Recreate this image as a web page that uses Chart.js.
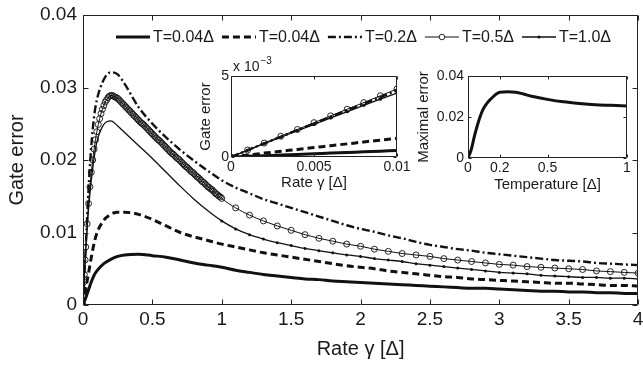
<!DOCTYPE html>
<html>
<head>
<meta charset="utf-8">
<script src="https://cdn.jsdelivr.net/npm/chart.js@4.4.1/dist/chart.umd.min.js"></script>
<style>
  html, body { margin: 0; padding: 0; background: #fff; }
  #wrap { position: relative; width: 643px; height: 365px; overflow: hidden; }
  #wrap canvas { position: absolute; }
</style>
</head>
<body>
<div id="wrap">
  <canvas id="mainChart" width="643" height="365" style="left:0;top:0"></canvas>
  <canvas id="insetRate" width="235" height="140" style="left:180px;top:55px"></canvas>
  <canvas id="insetTemp" width="225" height="140" style="left:415px;top:55px"></canvas>
</div>
<script>
// ---- data ----
const seriesLabels = ['T=0.04Δ', 'T=0.04Δ', 'T=0.2Δ', 'T=0.5Δ', 'T=1.0Δ'];

// fine grid, used by the circle series (T=0.5)
const rateFine = [0, 0.0025, 0.005, 0.0075, 0.01, 0.015, 0.02, 0.03, 0.04, 0.05, 0.06, 0.07, 0.08, 0.09,
  0.10, 0.11, 0.12, 0.13, 0.14, 0.15, 0.16, 0.17, 0.18, 0.19,
  0.20, 0.21, 0.22, 0.23, 0.24, 0.25, 0.26, 0.27, 0.28, 0.29,
  0.30, 0.31, 0.32, 0.33, 0.34, 0.35, 0.36, 0.37, 0.38, 0.39,
  0.40, 0.41, 0.42, 0.43, 0.44, 0.45, 0.46, 0.47, 0.48, 0.49,
  0.50, 0.51, 0.52, 0.53, 0.54, 0.55, 0.56, 0.57, 0.58, 0.59,
  0.60, 0.61, 0.62, 0.63, 0.64, 0.65, 0.66, 0.67, 0.68, 0.69,
  0.70, 0.71, 0.72, 0.73, 0.74, 0.75, 0.76, 0.77, 0.78, 0.79,
  0.80, 0.81, 0.82, 0.83, 0.84, 0.85, 0.86, 0.87, 0.88, 0.89,
  0.90, 0.91, 0.92, 0.93, 0.94, 0.95, 0.96, 0.97, 0.98, 0.99, 1.0,
  1.1, 1.2, 1.3, 1.4, 1.5, 1.6, 1.7, 1.8, 1.9, 2.0, 2.1, 2.2, 2.3, 2.4, 2.5, 2.6, 2.7, 2.8, 2.9, 3.0,
  3.1, 3.2, 3.3, 3.4, 3.5, 3.6, 3.7, 3.8, 3.9, 4.0];
const errT05 = [0, 0.00105, 0.0021, 0.0032, 0.0042, 0.0062, 0.0080, 0.0112, 0.0140, 0.0163, 0.0183, 0.0200, 0.0215, 0.0228,
  0.0239, 0.0249, 0.0257, 0.0264, 0.0270, 0.0275, 0.0280, 0.0283, 0.0286, 0.0288,
  0.0289, 0.0289, 0.0288, 0.0287, 0.0286, 0.0285, 0.0283, 0.0281, 0.0279, 0.0277,
  0.0275, 0.0273, 0.0271, 0.0269, 0.0267, 0.0265, 0.0263, 0.0261, 0.0259, 0.0257,
  0.0255, 0.0253, 0.0251, 0.0250, 0.0248, 0.0246, 0.0244, 0.0242, 0.0240, 0.0238,
  0.0236, 0.0234, 0.0232, 0.0230, 0.0228, 0.0227, 0.0225, 0.0223, 0.0221, 0.0219,
  0.0217, 0.0215, 0.0213, 0.0211, 0.0209, 0.0208, 0.0206, 0.0204, 0.0202, 0.0201,
  0.0199, 0.0197, 0.0195, 0.0193, 0.0191, 0.0190, 0.0188, 0.0186, 0.0184, 0.0183,
  0.0181, 0.0179, 0.0177, 0.0176, 0.0174, 0.0172, 0.0170, 0.0169, 0.0167, 0.0165,
  0.0163, 0.0162, 0.0160, 0.0159, 0.0157, 0.0155, 0.0153, 0.0152, 0.0150, 0.0149, 0.0147,
  0.0134, 0.0124, 0.0116, 0.0109, 0.0103, 0.0097, 0.0092, 0.0088, 0.0084, 0.0081, 0.0077, 0.0074, 0.0071, 0.0069, 0.0067,
  0.0064, 0.0062, 0.0060, 0.0058, 0.0056, 0.0055, 0.0053, 0.0052, 0.0051, 0.0050, 0.0049, 0.0047, 0.0046, 0.0045, 0.0044];

// coarse grid, used by the other four series
const rateCoarse = [0, 0.01, 0.02, 0.04, 0.06, 0.08, 0.1, 0.15, 0.2, 0.25, 0.3, 0.4, 0.5, 0.6, 0.7, 0.8, 0.9, 1.0,
  1.1, 1.2, 1.3, 1.4, 1.5, 1.6, 1.7, 1.8, 1.9, 2.0, 2.1, 2.2, 2.3, 2.4, 2.5, 2.6, 2.7, 2.8, 2.9, 3.0,
  3.1, 3.2, 3.3, 3.4, 3.5, 3.6, 3.7, 3.8, 3.9, 4.0];
const errT004 = [0, 0.0005, 0.0010, 0.0021, 0.0032, 0.0041, 0.0047, 0.0057, 0.0063, 0.0067, 0.0069, 0.0070, 0.0068, 0.0066, 0.0062, 0.0058, 0.0055, 0.0052,
  0.0048, 0.0045, 0.0042, 0.0040, 0.0038, 0.0036, 0.0035, 0.0033, 0.0032, 0.0031,
  0.0030, 0.0029, 0.0028, 0.0027, 0.0026, 0.0025, 0.0024, 0.0023, 0.0023, 0.0022,
  0.0021, 0.0020, 0.0019, 0.0019, 0.0018, 0.0018, 0.0017, 0.0017, 0.0016, 0.0016];
const errT004b = [0, 0.0012, 0.0023, 0.0044, 0.0066, 0.0085, 0.0099, 0.0117, 0.0125, 0.0128, 0.0128, 0.0125, 0.0118, 0.0109, 0.0100, 0.0094, 0.0089, 0.0084,
  0.0080, 0.0076, 0.0072, 0.0069, 0.0066, 0.0063, 0.0060, 0.0057, 0.0054, 0.0052,
  0.0050, 0.0047, 0.0045, 0.0043, 0.0041, 0.0039, 0.0038, 0.0036, 0.0035, 0.0034,
  0.0033, 0.0032, 0.0031, 0.0030, 0.0030, 0.0029, 0.0028, 0.0027, 0.0027, 0.0026];
const errT02 = [0, 0.0041, 0.0080, 0.0160, 0.0220, 0.0260, 0.0283, 0.0311, 0.0321, 0.0318, 0.0305, 0.0273, 0.0250, 0.0231, 0.0214, 0.0199, 0.0185, 0.0172,
  0.0162, 0.0154, 0.0146, 0.0140, 0.0134, 0.0128, 0.0122, 0.0116, 0.0110, 0.0105,
  0.0101, 0.0096, 0.0092, 0.0087, 0.0083, 0.0080, 0.0077, 0.0075, 0.0072, 0.0070,
  0.0068, 0.0066, 0.0064, 0.0062, 0.0061, 0.0060, 0.0058, 0.0057, 0.0056, 0.0055];
const errT10 = [0, 0.0040, 0.0077, 0.0132, 0.0172, 0.0203, 0.0225, 0.0249, 0.0254, 0.0247, 0.0238, 0.0220, 0.0202, 0.0183, 0.0164, 0.0146, 0.0130, 0.0116,
  0.0105, 0.0097, 0.0091, 0.0086, 0.0082, 0.0078, 0.0075, 0.0072, 0.0069, 0.0067,
  0.0064, 0.0062, 0.0060, 0.0057, 0.0055, 0.0053, 0.0051, 0.0049, 0.0047, 0.0045,
  0.0044, 0.0043, 0.0041, 0.0040, 0.0039, 0.0038, 0.0038, 0.0037, 0.0037, 0.0036];

// left inset: small rates
const rateSmall = [0, 0.001, 0.002, 0.003, 0.004, 0.005, 0.006, 0.007, 0.008, 0.009, 0.01];
const smallT004 = [0, 0.00004, 0.00008, 0.00012, 0.00016, 0.0002, 0.00024, 0.00028, 0.00032, 0.00036, 0.0004];
const smallT004b = [0, 0.00012, 0.00024, 0.00035, 0.00047, 0.00058, 0.0007, 0.00081, 0.00093, 0.00104, 0.00115];
const smallT02 = [0, 0.00042, 0.00084, 0.00125, 0.00166, 0.00207, 0.00248, 0.00289, 0.00329, 0.00369, 0.0041];
const smallT05 = [0, 0.00043, 0.00086, 0.00128, 0.0017, 0.00212, 0.00254, 0.00295, 0.00336, 0.00378, 0.0042];
const smallT10 = [0, 0.00041, 0.00082, 0.00122, 0.00162, 0.00202, 0.00241, 0.0028, 0.00319, 0.00357, 0.00395];

// right inset: maximal error vs temperature
const temperature = [0, 0.02, 0.04, 0.06, 0.08, 0.1, 0.12, 0.14, 0.16, 0.18, 0.2, 0.25, 0.3, 0.35, 0.4, 0.5, 0.6, 0.7, 0.8, 0.9, 1.0];
const maxError = [0, 0.0040, 0.0105, 0.0162, 0.0210, 0.0245, 0.0268, 0.0285, 0.0300, 0.0313, 0.0321, 0.0323, 0.0321, 0.0312, 0.0301, 0.0286, 0.0274, 0.0266, 0.0260, 0.0257, 0.0254];
const tempTicks = [0, 0.2, 0.5, 1];

// ---- helpers ----
const FONT = '"Liberation Sans", Arial, Helvetica, sans-serif';
Chart.defaults.font.family = FONT;
Chart.defaults.color = '#1a1a1a';
const INK = '#111';

function pts(xs, ys) {
  return xs.map((x, i) => ({ x: x, y: ys[i] }));
}

// plain number labels like MATLAB: 0, 0.5, 1, 0.005, 0.01
const plainTick = v => String(parseFloat(Number(v).toFixed(6)));

// MATLAB-like box with inward ticks on all four sides
const boxPlugin = {
  id: 'box',
  afterDatasetsDraw(chart, args, opts) {
    const { ctx, chartArea: a, scales } = chart;
    const len = opts.len || 5;
    const L = Math.round(a.left) + 0.5, R = Math.round(a.right) - 0.5;
    const T = Math.round(a.top) + 0.5, B = Math.round(a.bottom) - 0.5;
    ctx.save();
    ctx.strokeStyle = '#222';
    ctx.lineWidth = 1;
    ctx.setLineDash([]);
    ctx.beginPath();
    ctx.rect(L, T, R - L, B - T);
    scales.x.ticks.forEach(t => {
      const px = Math.round(scales.x.getPixelForValue(t.value)) + 0.5;
      ctx.moveTo(px, B); ctx.lineTo(px, B - len);
      ctx.moveTo(px, T); ctx.lineTo(px, T + len);
    });
    scales.y.ticks.forEach(t => {
      const py = Math.round(scales.y.getPixelForValue(t.value)) + 0.5;
      ctx.moveTo(L, py); ctx.lineTo(L + len, py);
      ctx.moveTo(R, py); ctx.lineTo(R - len, py);
    });
    ctx.stroke();
    ctx.restore();
  }
};

// legend in one row inside the main plot, line sample + marker + text
const rowLegend = {
  id: 'rowLegend',
  afterDraw(chart, args, opts) {
    if (!opts.show) return;
    const ctx = chart.ctx;
    let x = opts.x;
    const y = opts.y;
    ctx.save();
    ctx.font = opts.font;
    ctx.textBaseline = 'middle';
    chart.data.datasets.forEach(ds => {
      const len = opts.sample;
      ctx.strokeStyle = ds.borderColor;
      ctx.lineWidth = ds.borderWidth;
      ctx.setLineDash(ds.borderDash || []);
      ctx.beginPath();
      ctx.moveTo(x, y);
      ctx.lineTo(x + len, y);
      ctx.stroke();
      ctx.setLineDash([]);
      if (ds.marker === 'circle') {
        ctx.lineWidth = 0.9;
        ctx.beginPath();
        ctx.arc(x + len / 2, y, 2.8, 0, Math.PI * 2);
        ctx.fillStyle = '#fff';
        ctx.fill();
        ctx.stroke();
      } else if (ds.marker === 'dot') {
        ctx.beginPath();
        ctx.arc(x + len / 2, y, 1.5, 0, Math.PI * 2);
        ctx.fillStyle = INK;
        ctx.fill();
      }
      ctx.fillStyle = '#1a1a1a';
      ctx.fillText(ds.label, x + len + 3, y + 1);
      x += len + 3 + ctx.measureText(ds.label).width + opts.gap;
    });
    ctx.restore();
  }
};

function seriesSet(xsMain, xsFine, sets, dotRule) {
  // sets: [thick, dashed, dashdot, circles, dots]
  return [
    { label: seriesLabels[0], data: pts(xsMain, sets[0]), borderColor: INK, borderWidth: 3,
      pointRadius: 0, cubicInterpolationMode: 'monotone' },
    { label: seriesLabels[1], data: pts(xsMain, sets[1]), borderColor: INK, borderWidth: 3, borderDash: [7, 4],
      pointRadius: 0, cubicInterpolationMode: 'monotone' },
    { label: seriesLabels[2], data: pts(xsMain, sets[2]), borderColor: INK, borderWidth: 2.4, borderDash: [8, 3, 2, 3],
      pointRadius: 0, cubicInterpolationMode: 'monotone' },
    { label: seriesLabels[3], data: pts(xsFine, sets[3]), borderColor: INK, borderWidth: 1, marker: 'circle',
      pointStyle: 'circle', pointRadius: 3, pointBorderWidth: 0.9, pointBorderColor: INK,
      pointBackgroundColor: 'rgba(255,255,255,0)', cubicInterpolationMode: 'monotone' },
    { label: seriesLabels[4], data: pts(xsMain, sets[4]), borderColor: INK, borderWidth: 1.3, marker: 'dot',
      pointStyle: 'circle', pointRadius: dotRule, pointBorderWidth: 0, pointBackgroundColor: INK,
      cubicInterpolationMode: 'monotone' }
  ];
}

// ---- main chart ----
const mainChart = new Chart(document.getElementById('mainChart').getContext('2d'), {
  type: 'line',
  data: {
    datasets: seriesSet(rateCoarse, rateFine, [errT004, errT004b, errT02, errT05, errT10],
      c => (c.raw && c.raw.x >= 1 ? 1.5 : 0))
  },
  options: {
    responsive: false,
    animation: false,
    devicePixelRatio: 1,
    layout: { padding: { top: 15, right: 2, left: 0, bottom: 0 } },
    plugins: {
      legend: { display: false },
      tooltip: { enabled: false },
      box: { len: 5 },
      rowLegend: { show: true, x: 116, y: 37, sample: 34, gap: 8, font: '16px ' + FONT }
    },
    scales: {
      x: {
        type: 'linear', min: 0, max: 4,
        grid: { display: false, drawTicks: false },
        border: { display: false },
        ticks: { stepSize: 0.5, padding: 3, font: { size: 19 }, maxRotation: 0, callback: plainTick },
        title: { display: true, text: 'Rate γ [Δ]', font: { size: 20 }, padding: { top: 0, bottom: 4 } },
        afterFit: s => { s.height = 60; s.paddingLeft = 0; s.paddingRight = 0; }
      },
      y: {
        type: 'linear', min: 0, max: 0.04,
        grid: { display: false, drawTicks: false },
        border: { display: false },
        ticks: { stepSize: 0.01, padding: 6, font: { size: 19 }, callback: plainTick },
        title: { display: true, text: 'Gate error', font: { size: 20 }, padding: { top: 5, bottom: 0 } },
        afterFit: s => { s.width = 83; s.paddingTop = 0; s.paddingBottom = 0; }
      }
    }
  },
  plugins: [boxPlugin, rowLegend]
});

// ---- left inset: small rates ----
const exponentLabel = {
  id: 'exponentLabel',
  afterDraw(chart) {
    const { ctx, chartArea: a } = chart;
    ctx.save();
    ctx.fillStyle = '#1a1a1a';
    ctx.textBaseline = 'alphabetic';
    ctx.font = '14px ' + FONT;
    ctx.fillText('x 10', a.left + 2, a.top - 5);
    const w = ctx.measureText('x 10').width;
    ctx.font = '10px ' + FONT;
    ctx.fillText('\u22123', a.left + 3 + w, a.top - 12);
    ctx.restore();
  }
};

const insetRate = new Chart(document.getElementById('insetRate').getContext('2d'), {
  type: 'line',
  data: {
    datasets: seriesSet(rateSmall, rateSmall, [smallT004, smallT004b, smallT02, smallT05, smallT10], 1.6)
  },
  options: {
    responsive: false,
    animation: false,
    devicePixelRatio: 1,
    layout: { padding: { top: 21, right: 18, left: 0, bottom: 0 } },
    plugins: {
      legend: { display: false },
      tooltip: { enabled: false },
      box: { len: 3 },
      rowLegend: { show: false }
    },
    scales: {
      x: {
        type: 'linear', min: 0, max: 0.01,
        grid: { display: false, drawTicks: false },
        border: { display: false },
        ticks: { stepSize: 0.005, padding: 2, font: { size: 14 }, maxRotation: 0, callback: plainTick },
        title: { display: true, text: 'Rate γ [Δ]', font: { size: 15 }, padding: { top: 0, bottom: 3 } },
        afterFit: s => { s.height = 38; s.paddingLeft = 0; s.paddingRight = 0; }
      },
      y: {
        type: 'linear', min: 0, max: 0.005,
        grid: { display: false, drawTicks: false },
        border: { display: false },
        ticks: { stepSize: 0.005, padding: 2, font: { size: 14 }, callback: v => String(Math.round(v * 1000)) },
        title: { display: true, text: 'Gate error', font: { size: 15 }, padding: { top: 17, bottom: 0 } },
        afterFit: s => { s.width = 51; s.paddingTop = 0; s.paddingBottom = 0; }
      }
    }
  },
  plugins: [boxPlugin, exponentLabel]
});

// ---- right inset: maximal error vs temperature ----
const insetTemp = new Chart(document.getElementById('insetTemp').getContext('2d'), {
  type: 'line',
  data: {
    datasets: [{
      label: 'Maximal error',
      data: pts(temperature, maxError),
      borderColor: INK,
      borderWidth: 3,
      pointRadius: 0,
      cubicInterpolationMode: 'monotone'
    }]
  },
  options: {
    responsive: false,
    animation: false,
    devicePixelRatio: 1,
    layout: { padding: { top: 21, right: 13, left: 0, bottom: 0 } },
    plugins: {
      legend: { display: false },
      tooltip: { enabled: false },
      box: { len: 3 },
      rowLegend: { show: false }
    },
    scales: {
      x: {
        type: 'linear', min: 0, max: 1,
        grid: { display: false, drawTicks: false },
        border: { display: false },
        ticks: { padding: 2, font: { size: 14 }, maxRotation: 0, callback: plainTick },
        afterBuildTicks: s => { s.ticks = tempTicks.map(v => ({ value: v })); },
        title: { display: true, text: 'Temperature [Δ]', font: { size: 15 }, padding: { top: 0, bottom: 1 } },
        afterFit: s => { s.height = 37; s.paddingLeft = 0; s.paddingRight = 0; }
      },
      y: {
        type: 'linear', min: 0, max: 0.04,
        grid: { display: false, drawTicks: false },
        border: { display: false },
        ticks: { stepSize: 0.02, padding: 4, font: { size: 14 }, callback: plainTick },
        title: { display: true, text: 'Maximal error', font: { size: 15 }, padding: { top: 0, bottom: 0 } },
        afterFit: s => { s.width = 53; s.paddingTop = 0; s.paddingBottom = 0; }
      }
    }
  },
  plugins: [boxPlugin]
});
</script>
</body>
</html>
